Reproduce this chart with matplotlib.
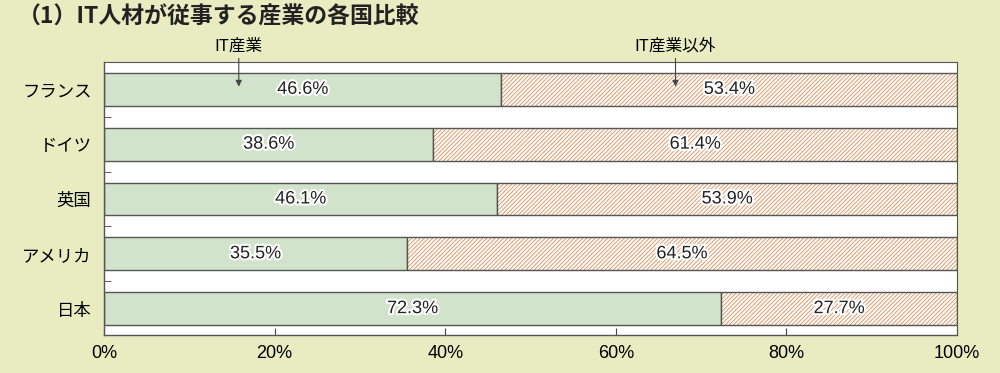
import matplotlib.pyplot as plt
import matplotlib.patheffects as pe

plt.rcParams['font.family'] = ['Noto Sans CJK JP', 'DejaVu Sans']
plt.rcParams['hatch.linewidth'] = 0.7

countries = ['フランス', 'ドイツ', '英国', 'アメリカ', '日本']
it_share = [46.6, 38.6, 46.1, 35.5, 72.3]
non_it_share = [53.4, 61.4, 53.9, 64.5, 27.7]

bg = '#e8ecc0'
green = '#d2e3cb'
hatch_col = '#d9a07c'
edge = '#555555'

fig = plt.figure(figsize=(10, 3.73), dpi=100, facecolor=bg)
ax = fig.add_axes([0.104, 0.102, 0.853, 0.732])
ax.set_facecolor('white')

y = list(range(len(countries)))[::-1]
h = 0.6

ax.barh(y, it_share, height=h, color=green, edgecolor=edge, linewidth=1.0)
ax.barh(y, non_it_share, left=it_share, height=h, color='#fffaf4',
        edgecolor=hatch_col, linewidth=0, hatch='////////')
ax.barh(y, non_it_share, left=it_share, height=h, color='none',
        edgecolor=edge, linewidth=1.0)

halo = [pe.withStroke(linewidth=3, foreground='white')]
for yi, a, b in zip(y, it_share, non_it_share):
    ax.text(a / 2, yi, f'{a:.1f}%', ha='center', va='center', fontsize=13,
            color='#222222', path_effects=halo, family='Liberation Sans')
    ax.text(a + b / 2, yi, f'{b:.1f}%', ha='center', va='center', fontsize=13,
            color='#222222', path_effects=halo, family='Liberation Sans')

ax.set_xlim(0, 100)
ax.set_ylim(-0.48, 4.5)
ax.set_xticks([0, 20, 40, 60, 80, 100])
ax.set_xticklabels(['0%', '20%', '40%', '60%', '80%', '100%'], fontsize=13,
                   family='Liberation Sans')
ax.set_yticks(y)
ax.set_yticklabels(countries, fontsize=12.5)
ax.tick_params(axis='y', length=0, pad=9)
ax.tick_params(axis='x', direction='in', length=5, color='#444444', pad=7)
ax.set_yticks([0.5, 1.5, 2.5, 3.5], minor=True)
ax.tick_params(axis='y', which='minor', direction='in', length=5, color='#444444')
for s in ax.spines.values():
    s.set_color('#555555')
    s.set_linewidth(1.0)
for s in ['top', 'right']:
    ax.spines[s].set_linewidth(0.8)

arrow = dict(arrowstyle='-|>', color='#444444', lw=0.8, mutation_scale=9,
             shrinkA=1, shrinkB=0)
ax.annotate('IT産業', xy=(15.8, 4.05), xytext=(15.8, 4.64), ha='center',
            va='bottom', fontsize=12, arrowprops=arrow, annotation_clip=False)
ax.annotate('IT産業以外', xy=(67.0, 4.05), xytext=(67.0, 4.64), ha='center',
            va='bottom', fontsize=12, arrowprops=arrow, annotation_clip=False)

fig.text(0.018, 0.953, '（1）IT人材が従事する産業の各国比較', fontsize=16.5,
         fontweight='bold', va='center', ha='left', color='#222222')

fig.savefig('out.png', dpi=100, facecolor=bg)
